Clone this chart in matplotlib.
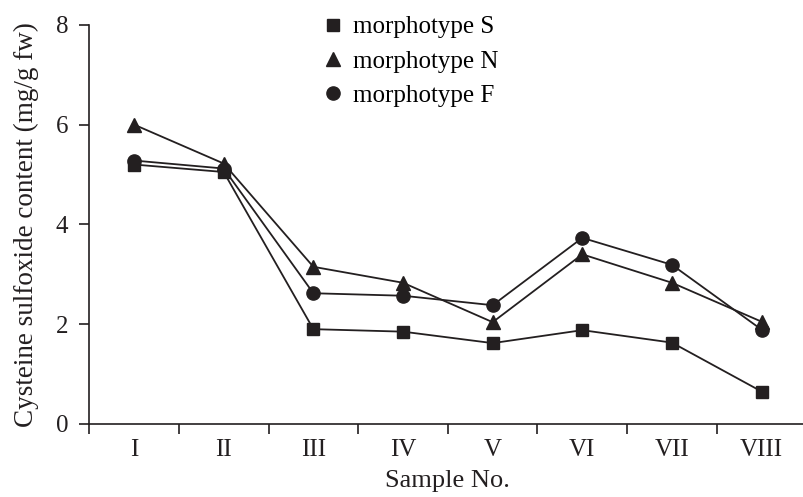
import matplotlib.pyplot as plt
from matplotlib.lines import Line2D

samples = ["I", "II", "III", "IV", "V", "VI", "VII", "VIII"]
morph_s = [5.2, 5.05, 1.9, 1.85, 1.62, 1.88, 1.63, 0.65]
morph_n = [6.0, 5.22, 3.15, 2.83, 2.04, 3.4, 2.83, 2.05]
morph_f = [5.28, 5.12, 2.62, 2.57, 2.38, 3.73, 3.19, 1.89]

plt.rcParams["font.family"] = ["Liberation Serif", "DejaVu Serif"]
ink = "#231f20"

fig = plt.figure(figsize=(8.04, 4.97), dpi=100)
ax = fig.add_axes([0.111, 0.147, 0.892, 0.803])

xs = [i + 0.5 for i in range(len(samples))]
ax.plot(xs, morph_s, color=ink, lw=1.3, marker="s", ms=9)
ax.plot(xs, morph_n, color=ink, lw=1.3, marker="^", ms=10)
ax.plot(xs, morph_f, color=ink, lw=1.3, marker="o", ms=9.5)

ax.set_xlim(0, 8)
ax.set_ylim(0, 8)
ax.set_yticks([0, 2, 4, 6, 8])
ax.set_xticks(range(8))
ax.set_xticklabels([])
ax.set_xticks(xs, minor=True)
ax.set_xticklabels(samples, minor=True)
ax.tick_params(axis="x", which="minor", length=0, pad=11)
ax.tick_params(axis="x", which="major", length=7, width=1.2, color=ink)
ax.tick_params(axis="y", length=7, width=1.2, color=ink, pad=8)
ax.tick_params(which="both", labelsize=18, labelcolor=ink)

for side in ["top", "right"]:
    ax.spines[side].set_visible(False)
for side in ["left", "bottom"]:
    ax.spines[side].set_linewidth(1.2)
    ax.spines[side].set_color(ink)

ax.set_xlabel("Sample No.", fontsize=19, color=ink, labelpad=6)
ax.set_ylabel("Cysteine sulfoxide content (mg/g fw)", fontsize=19.5, color=ink, labelpad=12)

handles = [
    Line2D([], [], ls="none", marker="s", ms=9, color=ink),
    Line2D([], [], ls="none", marker="^", ms=9.5, color=ink),
    Line2D([], [], ls="none", marker="o", ms=9.5, color=ink),
]
labels = ["morphotype S", "morphotype N", "morphotype F"]
fig.legend(handles, labels, loc="upper left", bbox_to_anchor=(0.386, 0.993),
           frameon=False, fontsize=18, handlelength=0.8, handletextpad=0.4,
           labelspacing=0.47, borderpad=0)

fig.savefig("out.png", dpi=100)
